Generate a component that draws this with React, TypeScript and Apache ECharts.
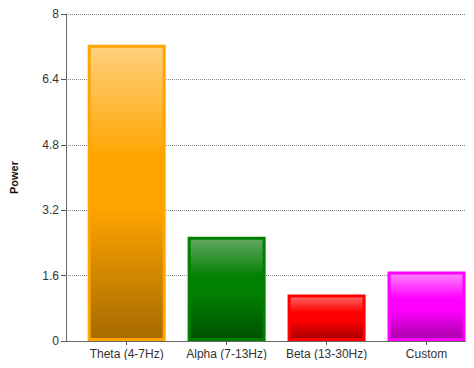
import React, { useEffect, useRef } from "react";
import * as echarts from "echarts";

// Frequency bands and their power values
const categories = ["Theta (4-7Hz)", "Alpha (7-13Hz)", "Beta (13-30Hz)", "Custom"];
const powerValues = [7.25, 2.55, 1.14, 1.7];
const yTicks = [0, 1.6, 3.2, 4.8, 6.4, 8];

// Bar colours: light top, base, dark bottom
const baseColors = ["#FFA500", "#008000", "#FF0000", "#FF00FF"];
const lightColors = ["#FFD07E", "#64A964", "#FF6868", "#FF86FF"];
const darkColors = ["#A56A00", "#005200", "#A80000", "#A800A8"];

export default function App() {
  const ref = useRef<HTMLDivElement>(null);

  useEffect(() => {
    if (!ref.current) return;
    const chart = echarts.init(ref.current, undefined, { renderer: "svg" });
    const positions = categories.map((_, i) => i + 1);

    chart.setOption({
      animation: false,
      grid: { left: 63, right: 1, top: 14, bottom: 27 },
      xAxis: {
        type: "value",
        min: 0.393,
        max: 4.465,
        splitLine: { show: false },
        axisLine: { show: true, lineStyle: { color: "#666", width: 1 } },
        axisTick: {
          show: true,
          length: 4,
          customValues: positions,
          lineStyle: { color: "#555" },
        },
        axisLabel: {
          customValues: positions,
          formatter: (v: number) => categories[Math.round(v) - 1] ?? "",
          color: "#333",
          fontFamily: "Liberation Sans, Arial, sans-serif",
          fontSize: 12,
          margin: 7,
        },
      },
      yAxis: {
        type: "value",
        min: yTicks[0],
        max: yTicks[yTicks.length - 1],
        interval: yTicks[1] - yTicks[0],
        name: "Power",
        nameLocation: "middle",
        nameRotate: 90,
        nameGap: 47,
        nameTextStyle: {
          fontWeight: "bold",
          fontSize: 11,
          color: "#111",
          fontFamily: "Liberation Sans, Arial, sans-serif",
        },
        axisLine: { show: true, lineStyle: { color: "#666", width: 1 } },
        axisTick: { show: true, length: 5, lineStyle: { color: "#555" } },
        axisLabel: {
          color: "#333",
          fontFamily: "Liberation Sans, Arial, sans-serif",
          fontSize: 12,
          margin: 7,
          formatter: (v: number) => String(Math.round(v * 10) / 10),
        },
        splitLine: {
          show: true,
          lineStyle: { color: "#8a8a8a", type: [1, 1], width: 1 },
        },
      },
      series: [
        {
          type: "bar",
          barWidth: 78,
          data: powerValues.map((v, i) => ({
            value: [positions[i], v],
            itemStyle: {
              borderColor: baseColors[i],
              borderWidth: 3,
              color: new echarts.graphic.LinearGradient(0, 0, 0, 1, [
                { offset: 0, color: lightColors[i] },
                { offset: 0.38, color: baseColors[i] },
                { offset: 0.55, color: baseColors[i] },
                { offset: 1, color: darkColors[i] },
              ]),
            },
          })),
        },
      ],
    });

    return () => chart.dispose();
  }, []);

  return <div ref={ref} style={{ width: 474, height: 368, margin: -8 }} />;
}
